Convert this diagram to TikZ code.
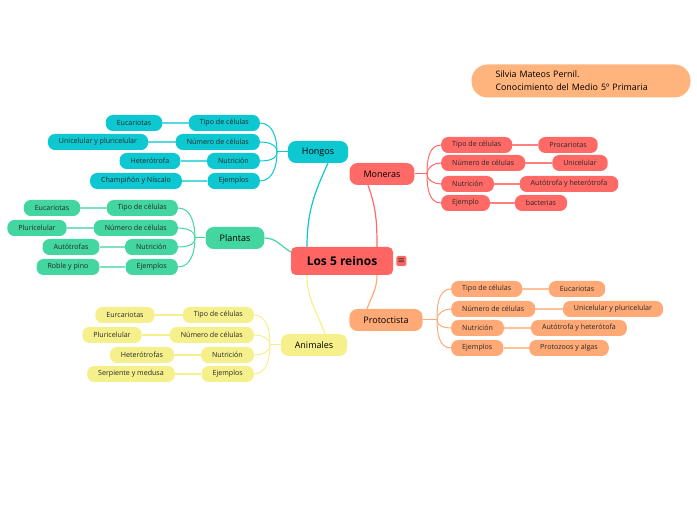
\documentclass[tikz,border=0pt]{standalone}
\usepackage{fontspec}
\setmainfont{Open Sans}
\newfontfamily\symfont{DejaVu Sans}
\usepackage{xcolor}
\usepackage{tikz}
\usetikzlibrary{positioning}

\definecolor{reinoscol}{RGB}{255,102,99}
\definecolor{hongoscol}{RGB}{13,199,209}
\definecolor{plantascol}{RGB}{67,214,161}
\definecolor{animalescol}{RGB}{246,240,140}
\definecolor{monerascol}{RGB}{255,106,102}
\definecolor{protoccol}{RGB}{255,170,118}
\definecolor{notecol}{RGB}{255,180,125}

\begin{document}
\begin{tikzpicture}[x=1pt, y=1pt,
    topic/.style={rounded corners=8pt, inner xsep=14pt, inner ysep=0pt, minimum height=22pt, font=\fontsize{9}{11}\selectfont},
    sub/.style={rounded corners=7pt, inner xsep=11pt, inner ysep=0pt, minimum height=16pt, font=\fontsize{7.1}{8}\selectfont, text=black!85},
    rootlink/.style={line width=1.2pt},
    link/.style={line width=1pt},
    leaflink/.style={line width=1.4pt}]

    \path[use as bounding box] (0,0) rectangle (697,520);

    % Central topic
    \node[fill=reinoscol, rounded corners=5pt, minimum width=102pt, minimum height=28pt, inner sep=0pt,
          font=\bfseries\fontsize{12}{14}\selectfont] (reinos) at (342,259) {Los 5 reinos};
    \node[fill=reinoscol, rounded corners=1.5pt, minimum size=10pt, inner sep=0pt, text=black!80,
          font=\symfont\fontsize{9}{9}\selectfont, right=3pt of reinos] (reinos_note) {≡};

    % Author note
    \node[fill=notecol, rounded corners=16pt, minimum height=33pt, text width=171pt, inner xsep=24pt,
          align=left, font=\fontsize{8.9}{13}\selectfont] (autora) at (581,439)
        {Silvia Mateos Pernil.\\Conocimiento del Medio 5º Primaria};

    % Main topics
    \node[topic, fill=hongoscol] (hongos) at (318,368) {Hongos};
    \node[topic, fill=plantascol] (plantas) at (235,282) {Plantas};
    \node[topic, fill=animalescol] (animales) at (314,175) {Animales};
    \node[topic, fill=monerascol] (moneras) at (382,346) {Moneras};
    \node[topic, fill=protoccol] (protoctista) at (386,200) {Protoctista};

    \draw[rootlink, hongoscol] ([xshift=-35pt]reinos.north) to[out=90, in=-115] ([xshift=10pt]hongos.south);
    \draw[rootlink, plantascol] ([yshift=9pt]reinos.west) to[out=150, in=0] (plantas.east);
    \draw[rootlink, animalescol] ([xshift=-35pt]reinos.south) to[out=-90, in=110] ([xshift=11pt]animales.north);
    \draw[rootlink, monerascol] ([xshift=35pt]reinos.north) to[out=90, in=-70] ([xshift=-14pt]moneras.south);
    \draw[rootlink, protoccol] ([xshift=35pt]reinos.south) to[out=-90, in=70] ([xshift=-19pt]protoctista.north);

    % Hongos
    \node[sub, fill=hongoscol, anchor=east] (hongos_tipo) at (260,397) {Tipo de células};
    \node[sub, fill=hongoscol, anchor=east] (hongos_num) at (260,378) {Número de células};
    \node[sub, fill=hongoscol, anchor=east] (hongos_nut) at (260,359) {Nutrición};
    \node[sub, fill=hongoscol, anchor=east] (hongos_ej) at (260,339) {Ejemplos};
    \node[sub, fill=hongoscol] (hongos_tipo_l) at (134,397) {Eucariotas};
    \node[sub, fill=hongoscol] (hongos_num_l) at (98,378) {Unicelular y pluricelular};
    \node[sub, fill=hongoscol] (hongos_nut_l) at (150,359) {Heterótrofa};
    \node[sub, fill=hongoscol] (hongos_ej_l) at (136,339) {Champiñón y Níscalo};

    \coordinate (hongos_j) at (277,368);
    \draw[link, hongoscol] (hongos.west) -- (hongos_j);
    \draw[link, hongoscol] (hongos_j) to[out=90, in=0] (hongos_tipo.east);
    \draw[link, hongoscol] (hongos_j) to[out=90, in=0] (hongos_num.east);
    \draw[link, hongoscol] (hongos_j) to[out=-90, in=0] (hongos_nut.east);
    \draw[link, hongoscol] (hongos_j) to[out=-90, in=0] (hongos_ej.east);
    \draw[leaflink, hongoscol!70] (hongos_tipo) -- (hongos_tipo_l);
    \draw[leaflink, hongoscol!70] (hongos_num) -- (hongos_num_l);
    \draw[leaflink, hongoscol!70] (hongos_nut) -- (hongos_nut_l);
    \draw[leaflink, hongoscol!70] (hongos_ej) -- (hongos_ej_l);

    % Plantas
    \node[sub, fill=plantascol, anchor=east] (plantas_tipo) at (178,312) {Tipo de células};
    \node[sub, fill=plantascol, anchor=east] (plantas_num) at (178,292) {Número de células};
    \node[sub, fill=plantascol, anchor=east] (plantas_nut) at (178,273) {Nutrición};
    \node[sub, fill=plantascol, anchor=east] (plantas_ej) at (178,253) {Ejemplos};
    \node[sub, fill=plantascol] (plantas_tipo_l) at (52,312) {Eucariotas};
    \node[sub, fill=plantascol] (plantas_num_l) at (37,292) {Pluricelular};
    \node[sub, fill=plantascol] (plantas_nut_l) at (71,273) {Autótrofas};
    \node[sub, fill=plantascol] (plantas_ej_l) at (68,253) {Roble y pino};

    \coordinate (plantas_j) at (195,282);
    \draw[link, plantascol] (plantas.west) -- (plantas_j);
    \draw[link, plantascol] (plantas_j) to[out=90, in=0] (plantas_tipo.east);
    \draw[link, plantascol] (plantas_j) to[out=90, in=0] (plantas_num.east);
    \draw[link, plantascol] (plantas_j) to[out=-90, in=0] (plantas_nut.east);
    \draw[link, plantascol] (plantas_j) to[out=-90, in=0] (plantas_ej.east);
    \draw[leaflink, plantascol!70] (plantas_tipo) -- (plantas_tipo_l);
    \draw[leaflink, plantascol!70] (plantas_num) -- (plantas_num_l);
    \draw[leaflink, plantascol!70] (plantas_nut) -- (plantas_nut_l);
    \draw[leaflink, plantascol!70] (plantas_ej) -- (plantas_ej_l);

    % Animales
    \node[sub, fill=animalescol, anchor=east] (animales_tipo) at (254,205) {Tipo de células};
    \node[sub, fill=animalescol, anchor=east] (animales_num) at (254,185) {Número de células};
    \node[sub, fill=animalescol, anchor=east] (animales_nut) at (254,165) {Nutrición};
    \node[sub, fill=animalescol, anchor=east] (animales_ej) at (254,146) {Ejemplos};
    \node[sub, fill=animalescol] (animales_tipo_l) at (125,205) {Eurcariotas};
    \node[sub, fill=animalescol] (animales_num_l) at (112,185) {Pluricelular};
    \node[sub, fill=animalescol] (animales_nut_l) at (142,165) {Heterótrofas};
    \node[sub, fill=animalescol] (animales_ej_l) at (131,146) {Serpiente y medusa};

    \coordinate (animales_j) at (270,175);
    \draw[link, animalescol] (animales.west) -- (animales_j);
    \draw[link, animalescol] (animales_j) to[out=90, in=0] (animales_tipo.east);
    \draw[link, animalescol] (animales_j) to[out=90, in=0] (animales_num.east);
    \draw[link, animalescol] (animales_j) to[out=-90, in=0] (animales_nut.east);
    \draw[link, animalescol] (animales_j) to[out=-90, in=0] (animales_ej.east);
    \draw[leaflink, animalescol] (animales_tipo) -- (animales_tipo_l);
    \draw[leaflink, animalescol] (animales_num) -- (animales_num_l);
    \draw[leaflink, animalescol] (animales_nut) -- (animales_nut_l);
    \draw[leaflink, animalescol] (animales_ej) -- (animales_ej_l);

    % Moneras
    \node[sub, fill=monerascol, anchor=west] (moneras_tipo) at (441,375) {Tipo de células};
    \node[sub, fill=monerascol, anchor=west] (moneras_num) at (441,357) {Número de células};
    \node[sub, fill=monerascol, anchor=west] (moneras_nut) at (441,336) {Nutrición};
    \node[sub, fill=monerascol, anchor=west] (moneras_ej) at (441,317) {Ejemplo};
    \node[sub, fill=monerascol] (moneras_tipo_l) at (568,375) {Procariotas};
    \node[sub, fill=monerascol] (moneras_num_l) at (580,357) {Unicelular};
    \node[sub, fill=monerascol] (moneras_nut_l) at (569,336) {Autótrofa y heterótrofa};
    \node[sub, fill=monerascol] (moneras_ej_l) at (541,317) {bacterias};

    \coordinate (moneras_j) at (427,346);
    \draw[link, monerascol] (moneras.east) -- (moneras_j);
    \draw[link, monerascol] (moneras_j) to[out=90, in=180] (moneras_tipo.west);
    \draw[link, monerascol] (moneras_j) to[out=90, in=180] (moneras_num.west);
    \draw[link, monerascol] (moneras_j) to[out=-90, in=180] (moneras_nut.west);
    \draw[link, monerascol] (moneras_j) to[out=-90, in=180] (moneras_ej.west);
    \draw[leaflink, monerascol!85] (moneras_tipo) -- (moneras_tipo_l);
    \draw[leaflink, monerascol!85] (moneras_num) -- (moneras_num_l);
    \draw[leaflink, monerascol!85] (moneras_nut) -- (moneras_nut_l);
    \draw[leaflink, monerascol!85] (moneras_ej) -- (moneras_ej_l);

    % Protoctista
    \node[sub, fill=protoccol, anchor=west] (protoctista_tipo) at (451,231) {Tipo de células};
    \node[sub, fill=protoccol, anchor=west] (protoctista_num) at (451,211) {Número de células};
    \node[sub, fill=protoccol, anchor=west] (protoctista_nut) at (451,192) {Nutrición};
    \node[sub, fill=protoccol, anchor=west] (protoctista_ej) at (451,172) {Ejemplos};
    \node[sub, fill=protoccol] (protoctista_tipo_l) at (577,231) {Eucariotas};
    \node[sub, fill=protoccol] (protoctista_num_l) at (613,211) {Unicelular y pluricelular};
    \node[sub, fill=protoccol] (protoctista_nut_l) at (579,192) {Autótrofa y heterótofa};
    \node[sub, fill=protoccol] (protoctista_ej_l) at (569,172) {Protozoos y algas};

    \coordinate (protoctista_j) at (437,200);
    \draw[link, protoccol] (protoctista.east) -- (protoctista_j);
    \draw[link, protoccol] (protoctista_j) to[out=90, in=180] (protoctista_tipo.west);
    \draw[link, protoccol] (protoctista_j) to[out=90, in=180] (protoctista_num.west);
    \draw[link, protoccol] (protoctista_j) to[out=-90, in=180] (protoctista_nut.west);
    \draw[link, protoccol] (protoctista_j) to[out=-90, in=180] (protoctista_ej.west);
    \draw[leaflink, protoccol!75] (protoctista_tipo) -- (protoctista_tipo_l);
    \draw[leaflink, protoccol!75] (protoctista_num) -- (protoctista_num_l);
    \draw[leaflink, protoccol!75] (protoctista_nut) -- (protoctista_nut_l);
    \draw[leaflink, protoccol!75] (protoctista_ej) -- (protoctista_ej_l);

\end{tikzpicture}
\end{document}
